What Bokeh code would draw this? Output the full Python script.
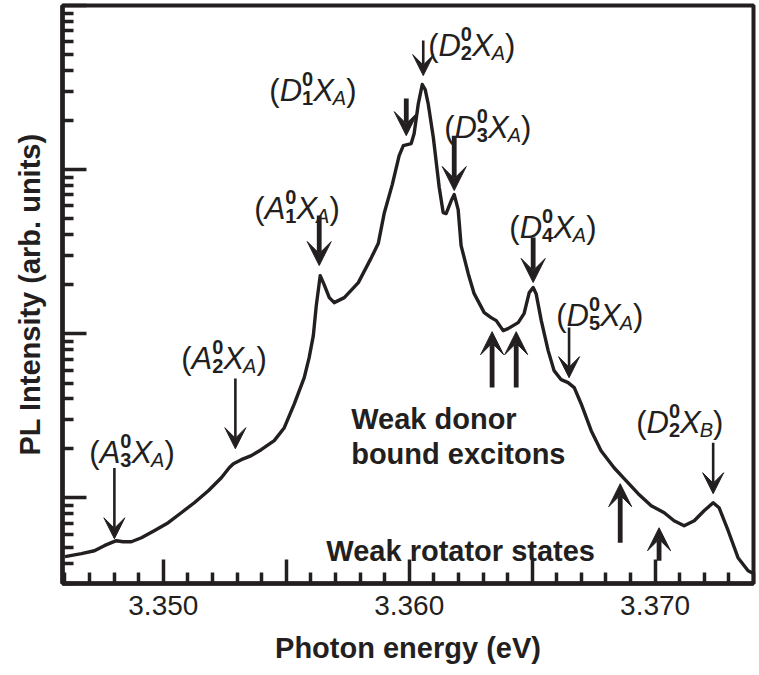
from bokeh.plotting import figure
from bokeh.models import FixedTicker, Arrow, VeeHead, ColumnDataSource, Range1d
from bokeh.core.properties import value
from bokeh.embed import file_html
from bokeh.resources import INLINE

# ---------------- data ----------------
energy = [3.3460, 3.34667, 3.34720, 3.34760, 3.34789, 3.34809, 3.34837, 3.34870, 3.34911, 3.34963,
          3.35020, 3.35073, 3.35126, 3.35183, 3.35236, 3.35268, 3.35285, 3.35317, 3.35358, 3.35398,
          3.35451, 3.35492, 3.35533, 3.35573, 3.35593, 3.35610, 3.35622, 3.35638, 3.35654, 3.35675,
          3.35695, 3.35736, 3.35793, 3.35846, 3.35874, 3.35898, 3.35931, 3.35959, 3.35976, 3.36008,
          3.36020, 3.36037, 3.36053, 3.36065, 3.36077, 3.36098, 3.36122, 3.36138, 3.36150, 3.36171,
          3.36183, 3.36199, 3.36211, 3.36240, 3.36264, 3.36305, 3.36333, 3.36354, 3.36382, 3.36402,
          3.36443, 3.36467, 3.36488, 3.36504, 3.36516, 3.36537, 3.36565, 3.36589, 3.36618, 3.36646,
          3.36671, 3.36699, 3.36740, 3.36780, 3.36833, 3.36874, 3.36931, 3.36984, 3.37037, 3.37077,
          3.37118, 3.37159, 3.37199, 3.37236, 3.37260, 3.37297, 3.37337, 3.37378, 3.37402]
intensity = [0.437, 0.456, 0.475, 0.510, 0.532, 0.547, 0.539, 0.539, 0.570, 0.629,
             0.704, 0.810, 0.932, 1.103, 1.324, 1.524, 1.612, 1.705, 1.804, 1.962,
             2.227, 2.672, 3.742, 5.393, 7.140, 9.72, 14.82, 22.58, 19.90, 16.58,
             15.45, 16.58, 20.46, 29.07, 35.39, 53.93, 81.0, 121.7, 140.1, 144.1,
             165.8, 252.6, 329.9, 307.4, 252.6, 156.7, 77.7, 54.7, 53.9, 64.7,
             70.4, 57.0, 34.4, 23.2, 17.53, 13.43, 12.52, 12.0, 10.43, 10.73,
             11.67, 13.24, 17.78, 19.08, 17.53, 12.0, 7.88, 5.95, 5.24, 5.03,
             4.69, 3.74, 2.562, 1.934, 1.523, 1.306, 1.058, 0.894, 0.810, 0.724,
             0.675, 0.724, 0.833, 0.932, 0.869, 0.629, 0.431, 0.359, 0.344]

# x ticks
x_major = [3.350, 3.355, 3.360, 3.365, 3.370]
x_major_labels = ["3.350", "", "3.360", "", "3.370"]
x_minor = [3.346, 3.347, 3.348, 3.349, 3.351, 3.352, 3.353, 3.354, 3.356, 3.357, 3.358, 3.359,
           3.361, 3.362, 3.363, 3.364, 3.366, 3.367, 3.368, 3.369, 3.371, 3.372, 3.373, 3.374]
# y ticks (log, no labels)
y_major = [1, 10, 100, 1000]
y_minor = [0.3, 0.4, 0.5, 0.6, 0.7, 0.8, 0.9,
           2, 3, 4, 5, 6, 7, 8, 9,
           20, 30, 40, 50, 60, 70, 80, 90,
           200, 300, 400, 500, 600, 700, 800, 900]

# peak labels: (main letter, index, sub letter)
peak_main = ["A", "A", "A", "D", "D", "D", "D", "D", "D"]
peak_index = ["3", "2", "1", "1", "2", "3", "4", "5", "2"]
peak_sub = ["A", "A", "A", "A", "A", "A", "A", "A", "B"]
peak_label_x = [3.34699, 3.35073, 3.35370, 3.35431, 3.36077, 3.36142, 3.36407, 3.36598, 3.36923]
peak_label_y = [1.88, 7.04, 57.8, 303, 570, 180, 44.3, 12.88, 2.87]

# down arrows marking peaks
arrow_x = [3.34801, 3.35293, 3.35634, 3.35988, 3.36057, 3.36183, 3.36504, 3.36650, 3.37236]
arrow_top = [1.52, 5.32, 52.4, 271, 612, 161, 38.5, 10.9, 2.16]
arrow_tip = [0.562, 1.99, 26.0, 161, 374, 74.5, 20.5, 5.39, 1.058]
arrow_thick = [False, False, True, True, False, True, True, False, False]

# up arrows: weak donor bound excitons and weak rotator states
up_x = [3.36337, 3.36435, 3.36858, 3.37016]
up_tail = [4.69, 4.69, 0.532, 0.413]
up_tip = [10.28, 10.28, 1.217, 0.656]

# text notes
note_text = ["Weak donor", "bound excitons", "Weak rotator states"]
note_x = [3.35764, 3.35764, 3.35663]
note_y = [3.03, 1.855, 0.475]

INK = "#231f20"
FONT = "Liberation Sans"

p = figure(width=759, height=675, output_backend="svg", toolbar_location=None,
           x_range=Range1d(3.3459, 3.3740), y_range=Range1d(0.3, 1000), y_axis_type="log",
           min_border_left=62, min_border_right=6, min_border_top=5, min_border_bottom=92)
p.background_fill_color = "white"
p.border_fill_color = "white"
p.xgrid.visible = False
p.ygrid.visible = False
p.outline_line_color = INK
p.outline_line_width = 4
p.outline_line_alpha = 1

# axes
p.xaxis.ticker = FixedTicker(ticks=x_major, minor_ticks=x_minor)
p.xaxis.major_label_overrides = dict(zip(x_major, x_major_labels))
p.yaxis.ticker = FixedTicker(ticks=y_major, minor_ticks=y_minor)
p.yaxis.major_label_overrides = {v: "" for v in y_major}
for ax in (p.xaxis[0], p.yaxis[0]):
    ax.axis_line_color = INK
    ax.axis_line_width = 4.5
    ax.major_tick_line_color = INK
    ax.minor_tick_line_color = INK
    ax.major_tick_line_width = 3.5
    ax.minor_tick_line_width = 3.5
    ax.major_tick_in = 24
    ax.major_tick_out = 0
    ax.minor_tick_in = 11
    ax.minor_tick_out = 0
    ax.major_label_text_font = FONT
    ax.major_label_text_font_size = "28px"
    ax.major_label_text_color = INK
    ax.axis_label_text_font = FONT
    ax.axis_label_text_font_style = "bold"
    ax.axis_label_text_font_size = "29px"
    ax.axis_label_text_color = INK
p.xaxis.axis_label = "Photon energy (eV)"
p.yaxis.axis_label = "PL Intensity (arb. units)"
p.xaxis.major_label_standoff = 12
p.xaxis.axis_label_standoff = 14
p.yaxis.major_label_standoff = 0
p.yaxis.axis_label_standoff = 17

# spectrum
p.line(energy, intensity, line_color=INK, line_width=3.4, line_join="round")

# arrows
thick_src = ColumnDataSource(dict(
    x=[x for x, t in zip(arrow_x, arrow_thick) if t],
    y0=[y for y, t in zip(arrow_top, arrow_thick) if t],
    y1=[y for y, t in zip(arrow_tip, arrow_thick) if t]))
thin_src = ColumnDataSource(dict(
    x=[x for x, t in zip(arrow_x, arrow_thick) if not t],
    y0=[y for y, t in zip(arrow_top, arrow_thick) if not t],
    y1=[y for y, t in zip(arrow_tip, arrow_thick) if not t]))
up_src = ColumnDataSource(dict(x=up_x, y0=up_tail, y1=up_tip))

for src, lw, hs in ((thick_src, 4.8, 24), (thin_src, 2.6, 21), (up_src, 4.8, 23)):
    p.add_layout(Arrow(end=VeeHead(size=hs, fill_color=INK, line_color=INK, line_width=1),
                       x_start="x", y_start="y0", x_end="x", y_end="y1",
                       line_color=INK, line_width=lw, source=src))

# peak labels built from pieces: ( D ^0 _n X _A )
F, S = 31, 20
groups = {}
def put(key, x, y, t, dx, dy):
    g = groups.setdefault(key, dict(x=[], y=[], text=[], dx=[], dy=[]))
    g["x"].append(x); g["y"].append(y); g["text"].append(t); g["dx"].append(dx); g["dy"].append(dy)

adv = {"(": 0.333, ")": 0.333, "D": 0.722, "A": 0.667, "X": 0.667, "B": 0.667}
for m, n, s, lx, ly in zip(peak_main, peak_index, peak_sub, peak_label_x, peak_label_y):
    dx = 0.0
    put((F, "normal"), lx, ly, "(", dx, 0); dx += adv["("] * F
    put((F, "italic"), lx, ly, m, dx, 0); dx += adv[m] * F
    put((S, "bold"), lx, ly, "0", dx, -12)
    put((S, "bold"), lx, ly, n, dx, 7); dx += 0.556 * S
    put((F, "italic"), lx, ly, "X", dx, 0); dx += adv["X"] * F - 1
    put((S, "italic"), lx, ly, s, dx, 7); dx += adv[s] * S
    put((F, "normal"), lx, ly, ")", dx, 0)

for (size, style), g in groups.items():
    src = ColumnDataSource(g)
    p.text(x="x", y="y", text="text", x_offset="dx", y_offset="dy", source=src,
           text_font=value(FONT), text_font_size=f"{size}px", text_font_style=style,
           text_color=INK, text_align="left", text_baseline="alphabetic")

p.text(x=note_x, y=note_y, text=note_text, text_font=value(FONT), text_font_size="29px",
       text_font_style="bold", text_color=INK, text_align="left", text_baseline="alphabetic")

open("out.html", "w").write(file_html(p, INLINE))
